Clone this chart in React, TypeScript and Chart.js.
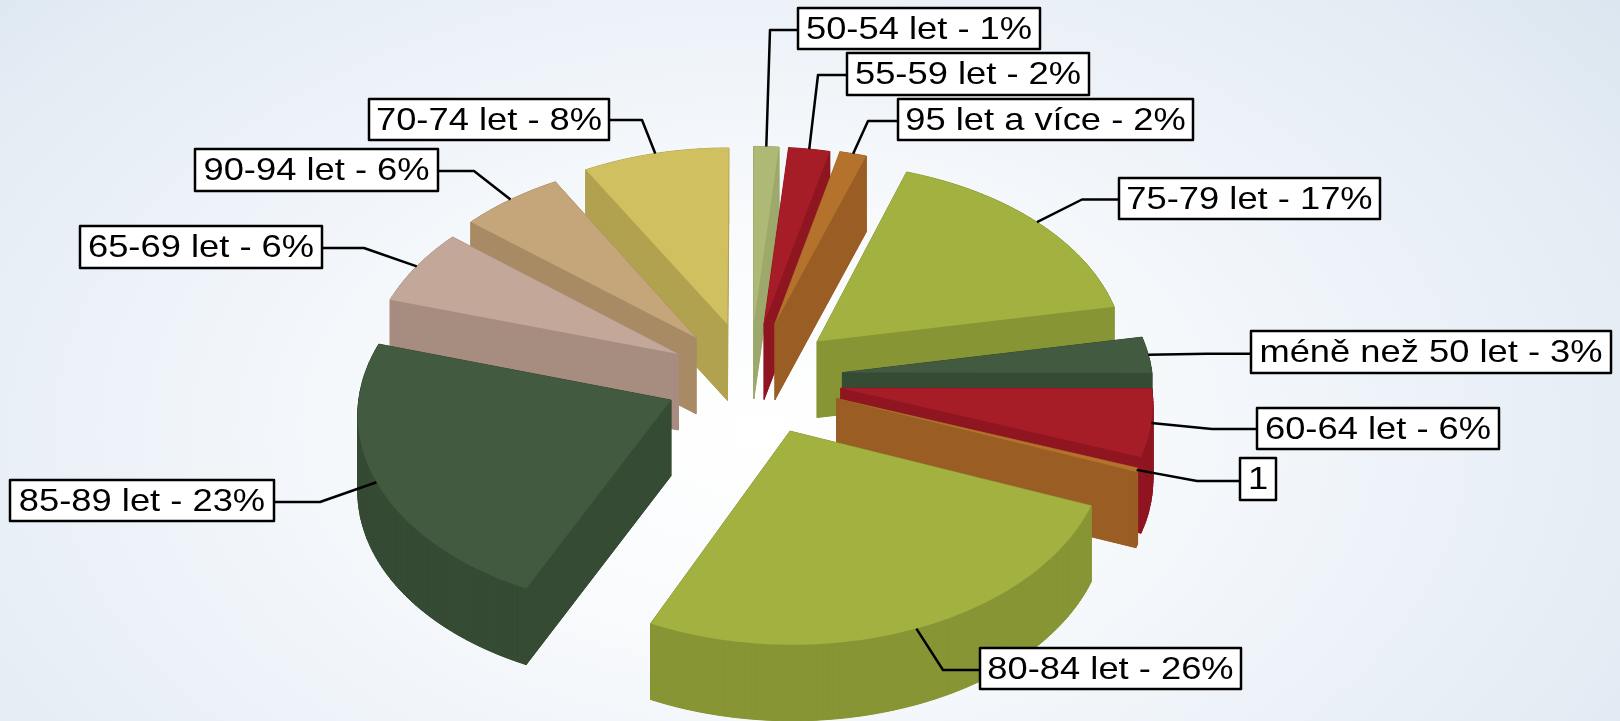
import React, { useEffect, useRef } from "react";
import { Chart, registerables } from "chart.js";

Chart.register(...registerables);

const categories = ["50-54 let", "55-59 let", "95 let a více", "75-79 let", "méně než 50 let", "60-64 let", "1", "80-84 let", "85-89 let", "65-69 let", "90-94 let", "70-74 let"];
const values = [1.4, 2.3, 1.5, 16.8, 3, 5.6, 0.3, 26, 22.7, 6.3, 5.8, 8.2];
const labelTexts = ["50-54 let - 1%", "55-59 let - 2%", "95 let a více - 2%", "75-79 let - 17%", "méně než 50 let - 3%", "60-64 let - 6%", "1", "80-84 let - 26%", "85-89 let - 23%", "65-69 let - 6%", "90-94 let - 6%", "70-74 let - 8%"];
const faceColors = ["#ADB974", "#A61C27", "#B4722D", "#A3B140", "#415A40", "#A61C27", "#B4722D", "#A3B140", "#415A40", "#C3A798", "#C5A67A", "#D1C060"];
const sideColors = ["#9DA86B", "#8F1620", "#9A5E24", "#889535", "#364B34", "#8F1620", "#9A5E24", "#889535", "#364B34", "#A78D80", "#A88B65", "#B1A250"];
const explode = [90, 90, 92, 90, 93, 92, 92, 90, 86, 82, 85, 90];
const sideShift = [0, 0, 0, 0, 0, 0, 0, 6, 0, 0, 0, 0];
// box x, y, w, h, elbow x, elbow y
const calloutLayout = [
  [798, 8, 242, 41, 770, 30], [847, 53, 242, 42, 818, 75], [898, 99, 295, 41, 868, 121],
  [1119, 178, 261, 41, 1082, 199.5], [1251, 331, 360, 42, 1207, 353.7], [1257, 408, 242, 41, 1212, 429],
  [1240, 458, 36, 42, 1197, 481], [980, 648, 261, 41, 943, 670], [10, 480, 264, 41, 320, 502],
  [80, 226, 242, 42, 364, 248], [195, 149, 243, 42, 474, 171], [369, 99, 240, 41, 642, 120],
];

const TILT = 0.625, VIEW = 5042, DEPTH = 76, STRETCH = 1.135;

const project = (cx: number, cy: number, wx: number, wy: number): [number, number] => {
  const s = VIEW / (VIEW - wy);
  return [cx + wx * s, cy + TILT * wy * s];
};

const pie3d = {
  id: "pie3d",
  beforeDatasetsDraw(chart: any) {
    const ctx = chart.ctx;
    const arcs = chart.getDatasetMeta(0).data.map((arc: any, i: number) => {
      const { x, y, startAngle, endAngle, outerRadius } = arc.getProps(["x", "y", "startAngle", "endAngle", "outerRadius"]);
      const mid = (startAngle + endAngle) / 2;
      const e = arc.options.offset;
      return { i, x: x + sideShift[i], y, startAngle, endAngle, outerRadius, mid, ox: Math.cos(mid) * e, oy: Math.sin(mid) * e, color: arc.options.backgroundColor };
    });
    arcs.sort((a: any, b: any) => a.oy - b.oy);
    for (const a of arcs) {
      const pts: [number, number][] = [project(a.x, a.y, a.ox, a.oy)];
      const n = Math.max(2, Math.ceil((a.endAngle - a.startAngle) * 60));
      for (let k = 0; k <= n; k++) {
        const t = a.startAngle + ((a.endAngle - a.startAngle) * k) / n;
        pts.push(project(a.x, a.y, a.ox + Math.cos(t) * a.outerRadius, a.oy + Math.sin(t) * a.outerRadius));
      }
      const trace = (dy: number) => {
        ctx.beginPath();
        pts.forEach(([px, py], j) => (j ? ctx.lineTo(px, py + dy) : ctx.moveTo(px, py + dy)));
        ctx.closePath();
        ctx.fill();
      };
      ctx.fillStyle = sideColors[a.i];
      ctx.strokeStyle = sideColors[a.i];
      ctx.lineWidth = 1;
      ctx.lineJoin = "round";
      trace(DEPTH);
      pts.forEach(([px, py], j) => {
        const [qx, qy] = pts[(j + 1) % pts.length];
        ctx.beginPath();
        ctx.moveTo(px, py);
        ctx.lineTo(qx, qy);
        ctx.lineTo(qx, qy + DEPTH);
        ctx.lineTo(px, py + DEPTH);
        ctx.closePath();
        ctx.fill();
        ctx.stroke();
      });
      ctx.fillStyle = a.color;
      trace(0);
    }
    return false;
  },
  afterDraw(chart: any) {
    const ctx = chart.ctx;
    chart.getDatasetMeta(0).data.forEach((arc: any, i: number) => {
      const { x, y, startAngle, endAngle, outerRadius } = arc.getProps(["x", "y", "startAngle", "endAngle", "outerRadius"]);
      const mid = (startAngle + endAngle) / 2;
      const r = arc.options.offset + outerRadius;
      const [ax, ay] = project(x + sideShift[i], y, Math.cos(mid) * r, Math.sin(mid) * r);
      const [bx, by, bw, bh, ex, ey] = calloutLayout[i];
      const startX = ex < bx ? bx : bx + bw;
      ctx.strokeStyle = "#000";
      ctx.lineWidth = 2.5;
      ctx.beginPath();
      ctx.moveTo(startX, ey);
      ctx.lineTo(ex, ey);
      ctx.lineTo(ax, ay);
      ctx.stroke();
      ctx.fillStyle = "#fff";
      ctx.fillRect(bx, by, bw, bh);
      ctx.strokeRect(bx, by, bw, bh);
      ctx.save();
      ctx.translate(bx + bw / 2, by + 31);
      ctx.scale(STRETCH, 1);
      ctx.font = '32px "Liberation Sans"';
      ctx.textAlign = "center";
      ctx.textBaseline = "alphabetic";
      ctx.fillStyle = "#000";
      ctx.fillText(labelTexts[i], 0, 0);
      ctx.restore();
    });
  },
};

export default function App() {
  const ref = useRef<HTMLCanvasElement>(null);
  useEffect(() => {
    const chart = new Chart(ref.current!, {
      type: "pie",
      data: {
        labels: categories,
        datasets: [{ data: values, backgroundColor: faceColors, offset: explode, radius: 310, borderWidth: 0 } as any],
      },
      options: {
        responsive: false,
        animation: false,
        layout: { padding: { left: 0, right: 120, top: 35, bottom: 0 } },
        plugins: { legend: { display: false }, tooltip: { enabled: false } },
      },
      plugins: [pie3d],
    } as any);
    return () => chart.destroy();
  }, []);
  return (
    <div
      style={{
        position: "fixed",
        left: 0,
        top: 0,
        width: 1620,
        height: 721,
        background: "radial-gradient(ellipse 70% 100% at 47% 60%, #ffffff 0%, #f8fafc 30%, #eef3f9 55%, #e4ecf4 80%, #d9e5ef 100%)",
      }}
    >
      <canvas ref={ref} width={1620} height={721} style={{ display: "block" }} />
    </div>
  );
}
